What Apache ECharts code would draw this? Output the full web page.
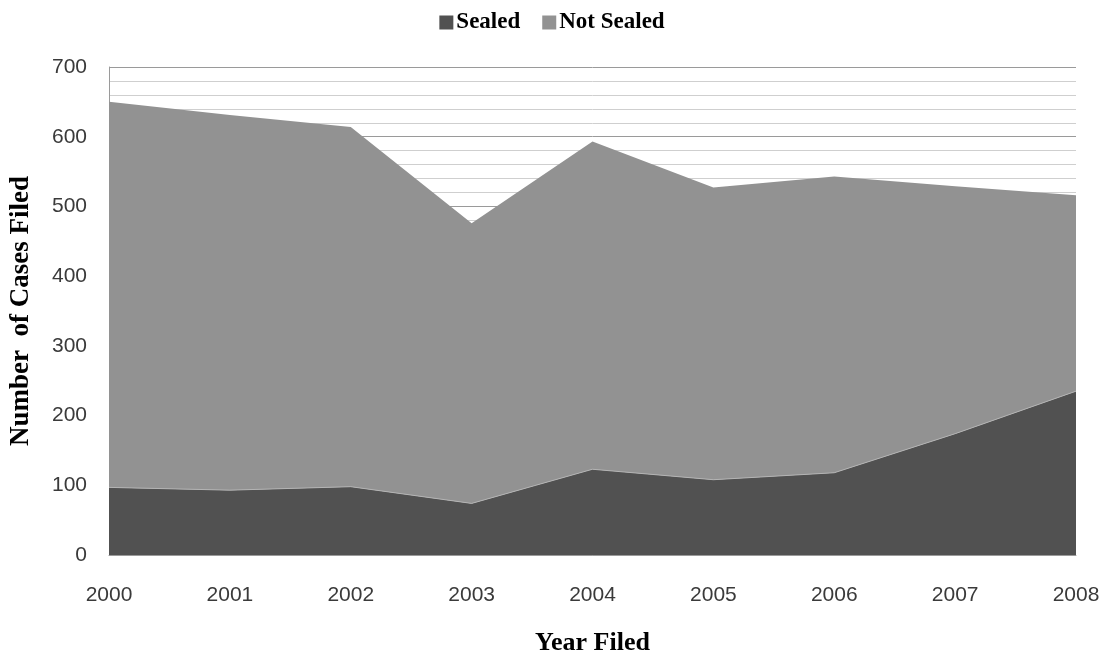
<!DOCTYPE html>
<html>
<head>
<meta charset="utf-8">
<script src="https://cdn.jsdelivr.net/npm/echarts@6/dist/echarts.min.js"></script>
<style>
  html, body { margin: 0; padding: 0; background: #ffffff; }
  #chart { width: 1104px; height: 654px; }
</style>
</head>
<body>
<div id="chart"></div>
<script>
// Filing years and case counts (stacked: sealed at the bottom, not sealed on top)
const years = ['2000', '2001', '2002', '2003', '2004', '2005', '2006', '2007', '2008'];
const sealed = [97, 93, 98, 74, 123, 108, 118, 174, 235];
const notSealed = [553, 538, 516, 402, 470, 419, 425, 355, 281];
const yTicks = [0, 100, 200, 300, 400, 500, 600, 700];

const chart = echarts.init(document.getElementById('chart'), null, { renderer: 'canvas' });

chart.setOption({
  animation: false,
  backgroundColor: '#ffffff',
  color: ['#515151', '#929292'],
  legend: {
    top: 6,
    left: 'center',
    itemWidth: 14,
    itemHeight: 14,
    itemGap: 22,
    icon: 'rect',
    textStyle: {
      fontFamily: 'Liberation Serif',
      fontWeight: 'bold',
      fontSize: 23,
      color: '#000000',
      padding: [0, 0, 0, -2]
    },
    data: ['Sealed', 'Not Sealed']
  },
  grid: {
    left: 109,
    right: 28,
    top: 67,
    bottom: 99,
    containLabel: false,
    outerBoundsMode: 'none'
  },
  xAxis: {
    type: 'category',
    data: years,
    boundaryGap: false,
    name: 'Year Filed',
    nameLocation: 'middle',
    nameGap: 75,
    nameTextStyle: {
      fontFamily: 'Liberation Serif',
      fontWeight: 'bold',
      fontSize: 26,
      color: '#000000'
    },
    axisLine: { show: true, lineStyle: { color: '#9a9a9a', width: 1 } },
    axisTick: { show: false },
    axisLabel: {
      margin: 30,
      fontFamily: 'Liberation Sans',
      fontSize: 21,
      color: '#3a3a3a'
    },
    splitLine: { show: false }
  },
  yAxis: {
    type: 'value',
    min: yTicks[0],
    max: yTicks[yTicks.length - 1],
    interval: 100,
    name: 'Number  of Cases Filed',
    nameLocation: 'middle',
    nameGap: 74,
    nameRotate: 90,
    nameTextStyle: {
      fontFamily: 'Liberation Serif',
      fontWeight: 'bold',
      fontSize: 27,
      color: '#000000'
    },
    axisLine: { show: true, lineStyle: { color: '#9a9a9a', width: 1 } },
    axisTick: { show: false },
    minorTick: { show: false, splitNumber: 5 },
    axisLabel: {
      margin: 22,
      fontFamily: 'Liberation Sans',
      fontSize: 21,
      color: '#3a3a3a'
    },
    splitLine: { show: true, lineStyle: { color: '#9a9a9a', width: 1 } },
    minorSplitLine: { show: true, lineStyle: { color: '#cfcfcf', width: 1 } }
  },
  series: [
    {
      name: 'Sealed',
      type: 'line',
      stack: 'cases',
      data: sealed,
      symbol: 'none',
      lineStyle: { color: '#b4b4b4', width: 1 },
      areaStyle: { color: '#515151', opacity: 1 },
      z: 3
    },
    {
      name: 'Not Sealed',
      type: 'line',
      stack: 'cases',
      data: notSealed,
      symbol: 'none',
      lineStyle: { width: 0 },
      areaStyle: { color: '#929292', opacity: 1 },
      z: 2
    }
  ]
});
</script>
</body>
</html>
